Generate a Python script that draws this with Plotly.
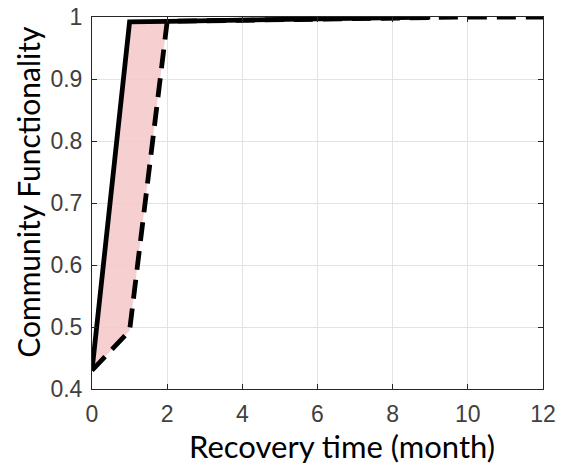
import plotly.graph_objects as go

# Data
months_solid = [0, 1, 2, 3, 4, 5, 6, 7, 8, 9]
func_solid = [0.43, 0.992, 0.993, 0.994, 0.995, 0.996, 0.997, 0.998, 0.999, 1.0]
months_dashed = [0, 1, 2, 3, 4, 5, 6, 7, 8, 9, 10, 11, 12]
func_dashed = [0.43, 0.494, 0.993, 0.994, 0.995, 0.996, 0.997, 0.998, 0.999, 1.0, 1.0, 1.0, 1.0]
x_ticks = [0, 2, 4, 6, 8, 10, 12]
y_ticks = [0.4, 0.5, 0.6, 0.7, 0.8, 0.9, 1.0]
y_tick_labels = ["0.4", "0.5", "0.6", "0.7", "0.8", "0.9", "1"]

# Band between the two curves (over the shared range up to month 2)
band_x = months_solid[:3] + months_dashed[:3][::-1]
band_y = func_solid[:3] + func_dashed[:3][::-1]

fig = go.Figure()
fig.add_trace(go.Scatter(x=band_x, y=band_y, fill="toself", mode="lines",
                         line=dict(width=0), fillcolor="rgba(244,200,200,0.85)",
                         hoverinfo="skip", showlegend=False))
fig.add_trace(go.Scatter(x=months_solid, y=func_solid, mode="lines",
                         line=dict(color="black", width=4.8), cliponaxis=False,
                         showlegend=False))
fig.add_trace(go.Scatter(x=months_dashed, y=func_dashed, mode="lines",
                         line=dict(color="black", width=4.8, dash="19px,10px"),
                         cliponaxis=False, showlegend=False))

axis_common = dict(showgrid=True, gridcolor="#e3e3e3", gridwidth=1,
                   showline=True, linecolor="#262626", linewidth=1, mirror="ticks",
                   ticks="inside", ticklen=5, tickcolor="#262626", zeroline=False,
                   ticklabeloverflow="allow", ticklabelstandoff=4,
                   tickfont=dict(family="Liberation Sans, Arial", size=23, color="#404040"))

title_font = dict(family="Lato, Open Sans", size=30, color="black")

fig.update_layout(
    width=566, height=472,
    margin=dict(l=92, r=23, t=17, b=83),
    paper_bgcolor="white", plot_bgcolor="white",
    xaxis=dict(range=[0, 12], tickvals=x_ticks, automargin=False, **axis_common),
    yaxis=dict(range=[0.4, 1.0], tickvals=y_ticks, ticktext=y_tick_labels,
               automargin=False, **axis_common),
    annotations=[
        dict(text="Recovery time (month)", xref="paper", yref="paper",
             x=0.554, y=-0.21, xanchor="center", yanchor="bottom",
             showarrow=False, font=dict(title_font, size=31)),
        dict(text="Community Functionality", xref="paper", yref="paper",
             x=-0.142, y=0.53, xanchor="center", yanchor="middle", textangle=-90,
             showarrow=False, font=title_font),
    ],
)

fig.write_html("out.html", config={"displayModeBar": False},
               post_script="document.body.style.margin='0';")
